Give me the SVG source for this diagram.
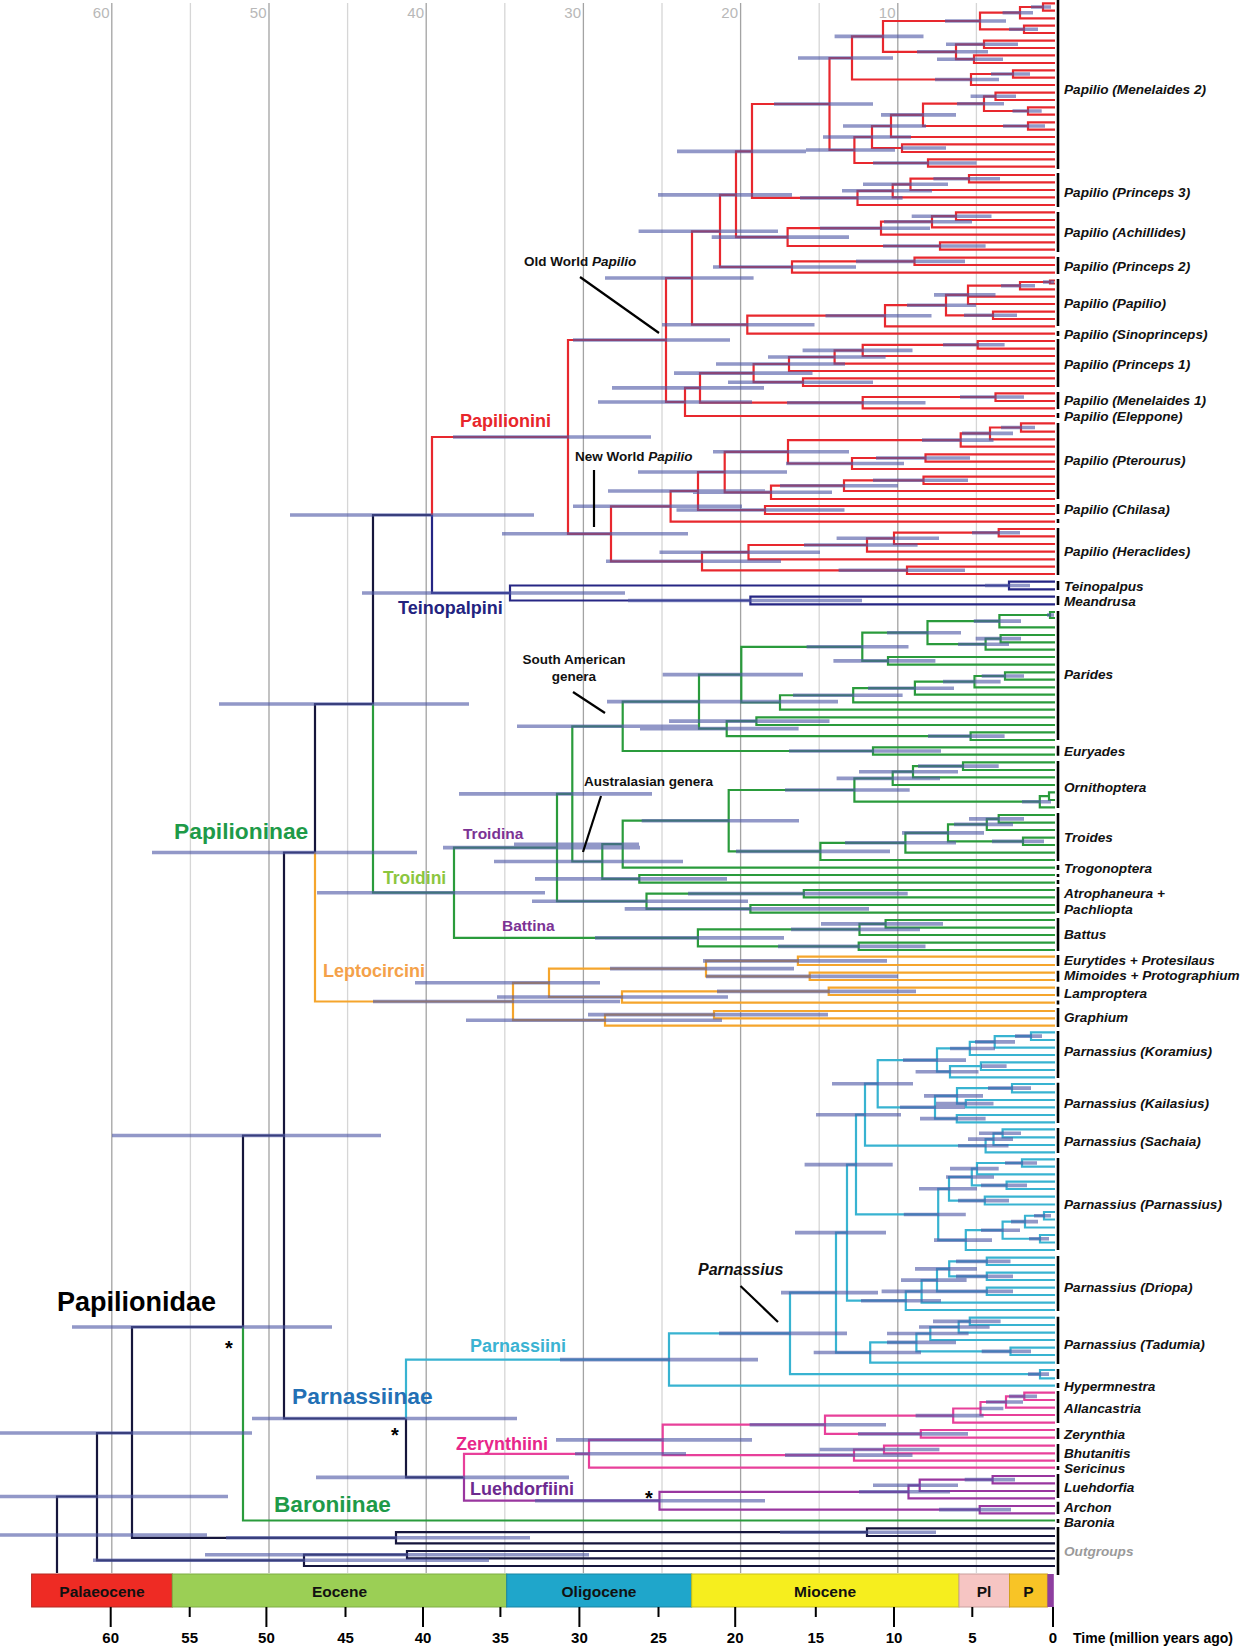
<svg xmlns="http://www.w3.org/2000/svg" width="1240" height="1647" viewBox="0 0 1240 1647">
<style>
text{font-family:'Liberation Sans',Arial,Helvetica,sans-serif;font-weight:bold}
.br{fill:none;stroke-width:2.2}
.k{stroke:#16163c}
.r{stroke:#e8282e}
.nv{stroke:#262684}
.g{stroke:#2a9b3c}
.o{stroke:#f5a52c}
.c{stroke:#38b3d1}
.m{stroke:#e8409a}
.p{stroke:#99369f}
.bar{fill:none;stroke:#4f58a6;stroke-opacity:0.62;stroke-width:3.6}
.g10{stroke:#a3a3a3;stroke-width:1.3}
.g5{stroke:#d6d6d6;stroke-width:1.3}
.gl{font-size:15px;font-weight:normal;fill:#b8b8b8;text-anchor:end}
.tl{font-size:13.6px;font-style:italic;fill:#111}
.bk{fill:none;stroke:#000;stroke-width:2.6}
.ann{font-size:13.5px;fill:#111}
.tick{stroke:#000;stroke-width:2}
.ax{font-size:15px;fill:#000;text-anchor:middle}
.ep{font-size:15.5px;text-anchor:middle;fill:#111}
.lead{stroke:#000;stroke-width:2.2}
.ast{font-size:20px;fill:#000;text-anchor:middle}
</style>
<g id="grid">
<path class="g10" d="M111.8,3V1573M269,3V1573M426.2,3V1573M583.4,3V1573M740.6,3V1573M897.8,3V1573"/>
<path class="g5" d="M190.4,3V1573M347.6,3V1573M504.8,3V1573M662,3V1573M819.2,3V1573M976.4,3V1573"/>
<text class="gl" x="109.5" y="18">60</text><text class="gl" x="266.5" y="18">50</text><text class="gl" x="424" y="18">40</text><text class="gl" x="581" y="18">30</text><text class="gl" x="738" y="18">20</text><text class="gl" x="895.5" y="18">10</text>
</g>
<g id="connectors">
<path class="br k" d="M432,515H373V704M373,704H315V852.5M315,852.5H284V1418.5H406M284,1135.5H243V1327M243,1327H132V1537.8H396M132,1433H97V1560.3H304M97,1496.5H57V1573M406,1418.5V1477.35H464M867,1532.2H396V1543.3H1055M1055,1528.3H867V1536H1055M407,1554.7H304V1566H1055M1055,1551H407V1558.3H1055"/>
<path class="br r" d="M568,437H432V515M666,340H568V533.8H611M692,278H666V402H685M720,231.3H692V324.7H747.3M736,194.9H720V267H792M752,151.4H736V237.1H787.6M829.5,104H752V197.9H857.5M852,58H829.5V150H854.4M883,36.4H852V79.5H971M980,21H883V51.8H956M1020,12.7H980V29.3H1024M1043,7H1020V18.3H1055M1055,3.3H1043V10.7H1055M1055,25.7H1024V33H1055M984,44.3H956V59.2H974M1055,40.7H984V48H1055M1055,55.3H974V63H1055M1013,74H971V85H1055M1055,70.3H1013V77.7H1055M872,137H854.4V163H928M891,126H872V148H902M923,114.9H891V137H1055M984,103.7H923V126H1028M995.5,96.3H984V111H1028M1055,92.7H995.5V100H1055M1055,107.3H1028V114.7H1055M1055,122.3H1028V129.7H1055M1055,144.3H902V152H1055M1055,159.3H928V166.7H1055
M892.7,190.8H857.5V205H1055M910.5,184.3H892.7V197.3H1055M969,178.7H910.5V190H1055M1055,175H969V182.3H1055M881,228.2H787.6V246H940M932,221.7H881V234.7H1055M956,216.2H932V227.3H1055M1055,212.3H956V220H1055M1055,242.3H940V249.7H1055M914.5,261.4H792V272.7H1055M1055,257.7H914.5V265H1055
M885,315.7H747.3V333.7H1055M946,305.2H885V326.3H1055M968,294.9H946V315.3H993M1020,285.7H968V304H1055M968,296.7H1055M1050,282H1020V289.3H1055M1055,280.5H1050V283.5H1055M1055,311.7H993V319H1055
M700,387.9H685V416H1055M753.6,373.1H700V402.7H862.7M789,364H753.6V382.2H803M834.6,357H789V371H1055M862.7,350.4H834.6V363.7H1055M977.7,344.8H862.7V356H1055M1055,341H977.7V348.7H1055M1055,378.3H803V386H1055M995.5,397H862.7V408.3H1055M1055,393.3H995.5V401H1055
M670.6,506.3H611V561.3H702M698,491H670.6V521.7H1055M724.7,472H698V510H765M1055,506H765V514H1055M788,451.8H724.7V492.3H771M960.7,440.1H788V463.5H852M990,433.4H960.7V446.7H1055M1021,427.5H990V439.3H1055M1055,423.3H1021V431.7H1055M925.5,458H852V469H1055M1055,454.3H925.5V461.7H1055M844,485.7H771V499H1055M923.5,480.3H844V491H1055M1055,476.7H923.5V484H1055
M748.5,552.2H702V570.3H907M1055,566.7H907V574H1055M867,545H748.5V559.3H1055M894,538.3H867V551.7H1055M998.7,532.7H894V544H1055M1055,529H998.7V536.3H1055"/>
<path class="br nv" d="M432,515V593H510M1009,585.5H510V600.5H750.4M1055,581.7H1009V589.3H1055M1055,596.7H750.4V604.3H1055"/>
<path class="br g" d="M373,704V892.7H454M243,1327V1520.5H1055M557,847.6H454V937.9H697.9M572.3,793.9H557V901.25H646.5M622.7,726.3H572.3V861.5H602.3M699,701.65H622.7V751H873M741.3,674.65H699V728.65H726.7M862.3,646.8H741.3V702.5H780M927.5,632.7H862.3V660.85H888M999.4,621.15H927.5V644.2H985.6M1050,615H999.4V627.3H1055M1055,612H1050V618H1055M1000.6,638.65H985.6V649.7H1055M1055,635H1000.6V642.3H1055M1055,657H888V664.7H1055M853.2,695.25H780V709.7H1055M914.9,688.2H853.2V702.3H1055M974.5,681.65H914.9V694.7H1055M1005,676H974.5V687.3H1055M1055,672.3H1005V679.7H1055M756.4,721.15H726.7V736.15H970.6M1055,717.3H756.4V725H1055M1055,732.3H970.6V740H1055M1055,747.3H873V754.7H1055
M622.7,844.2H602.3V878.85H639.3M728.7,820.7H622.7V867.7H1055M854.4,790H728.7V851.4H820.4M892.7,778.35H854.4V801.7H1039.8M913,771.7H892.7V785H1055M963,766.15H913V777.3H1055M1055,762.3H963V770H1055M1049,796.15H1039.8V807.3H1055M1055,792.3H1049V800H1055M905.4,842.8H820.4V860H1055M948,832.9H905.4V852.7H1055M986.8,824.4H948V841.35H1023M998.7,818.85H986.8V830H1055M1055,815H998.7V822.7H1055M1055,837.7H1023V845H1055M1055,875H639.3V882.7H1055
M803.8,893.65H646.5V908.85H750.4M1055,890H803.8V897.3H1055M1055,905H750.4V912.7H1055M859.5,929.4H697.9V946.35H858.7M885.6,923.85H859.5V935H1055M1055,920H885.6V927.7H1055M1055,942.7H858.7V950H1055"/>
<path class="br o" d="M315,852.5V1001.5H513M549,982.8H513V1020.2H605M706,968.6H549V997H622M797.9,960.85H706V976.35H809.7M1055,956.7H797.9V965H1055M1055,972.7H809.7V980H1055M828.7,991.35H622V1002.7H1055M1055,987.7H828.7V995H1055M714,1014.65H605V1025.7H1055M1055,1011H714V1018.3H1055"/>
<path class="br c" d="M669,1359.6H406V1418.5M790,1333.4H669V1385.7H1055M836,1292.6H790V1374.15H1040M1055,1370H1040V1378.3H1055M847,1232.65H836V1352.55H870.2M856,1164.6H847V1300.7H905.8M865,1114.7H856V1214.45H938.2M877.7,1083.7H865V1145.7H985.6M937,1060.1H877.7V1107.3H935M969.8,1048.45H937V1071.7H950M994.7,1041.9H969.8V1055H1055M1031,1036.15H994.7V1047.7H1055M1055,1032.3H1031V1040H1055M980.9,1066.15H950V1077.3H1055M1055,1062.3H980.9V1070H1055M957,1095.9H935V1118.65H956.8M1012,1088.15H957V1103.65H965.8M1055,1084H1012V1092.3H1055M1055,1100H965.8V1107.3H1055M1055,1115H956.8V1122.3H1055M993.5,1139.15H985.6V1152.3H1055M1002.6,1133.3H993.5V1145H1055M1055,1129.3H1002.6V1137.3H1055
M949,1188.8H938.2V1240.1H965.8M971.8,1177H949V1200.6H984.8M977,1168.65H971.8V1185.35H1006.6M1022,1163H977V1174.3H1055M1055,1159.3H1022V1166.7H1055M1055,1181.7H1006.6V1189H1055M1055,1196.7H984.8V1204.5H1055M1002.6,1230.2H965.8V1250H1055M1025,1221.6H1002.6V1238.75H1040M1044,1215.75H1025V1227.5H1055M1055,1212H1044V1219.5H1055M1055,1235H1040V1242.5H1055
M921.6,1291.4H905.8V1310H1055M937,1280.1H921.6V1302.7H1055M949.2,1268.85H937V1291.35H986.8M986.8,1261.35H949.2V1276.35H986.8M1055,1257.7H986.8V1265H1055M1055,1272.7H986.8V1280H1055M1055,1287.7H986.8V1295H1055
M916.4,1342.4H870.2V1362.7H1055M930.3,1333.5H916.4V1351.35H1010.5M958.7,1327H930.3V1340H1055M969.8,1321.35H958.7V1332.7H1055M1055,1317.7H969.8V1325H1055M1055,1347.7H1010.5V1355H1055"/>
<path class="br m" d="M589,1453.8H464V1477.35M662.7,1439.9H589V1467.7H1055M825,1424.7H662.7V1455.1H854M953.2,1415.6H825V1433.85H920.8M980.5,1408.5H953.2V1422.7H1055M1006,1402H980.5V1415H1055M1024.3,1396.35H1006V1407.7H1055M1055,1392.7H1024.3V1400H1055M1055,1430H920.8V1437.7H1055M884,1449.5H854V1460.7H1055M1055,1445.7H884V1453.3H1055"/>
<path class="br p" d="M464,1477.35V1500.7H659.5M908.5,1491.8H659.5V1509.65H979.7M919.7,1485.3H908.5V1498.3H1055M992.6,1479.65H919.7V1491H1055M1055,1476H992.6V1483.3H1055M1055,1506H979.7V1513.3H1055"/>
</g>
<g id="error-bars">
<path class="bar" d="M0,1535H207M0,1496.5H228M0,1433H252M72,1327H332M112,1135.5H381M152,852.5H417M219,704H469M290,515H534M362,593H625M453,437H651M502,533.8H688M573,340H730M252,1418.5H517M316,1477.4H569M226,1537.8H530M93,1560.3H489M205,1554.7H589M780,1532.2H936M560,1359.6H758M317,892.7H545M373,1001.5H620
M605,278H753.6M638.6,231.3H778M658,194.9H792M677,151.4H806M774,104H873M798,58H893M834.6,36.4H923.5M917,51.8H988M946,44.3H1018M937,59.2H1003M945,21H1006M1002.6,12.7H1033M1009,29.3H1038M1031,7H1051M935,79.5H999M991,74H1030M957,103.7H1004M881,114.9H956M843,126H926M823,137H911M970.6,96.3H1016M1012.5,111H1041.7M1003,126H1045M901,148H946M873,163H976.5M806,150H895M800,197.9H902.6M842,190.8H932M863,184.3H948M933.4,178.7H1000M711.7,237.1H849M820,228.2H930M884,221.7H972M911.7,216.2H991.5M883,246H985.6M713,267H856M856,261.4H965M662,324.7H814.5M825.5,315.7H931.5M907,305.2H976M934,294.9H995.5M1001,285.7H1035M1043,282H1054M964,315.3H1017M598,402H752M612,387.9H764M674,373.1H812.5M716,364H845M768,357H885.6M802.6,350.4H912.5M943,344.8H1004.6M728,382.2H873M787,402.7H925.5M960,397H1024
M573,506.3H742M608,491H765M638,472H787M713,451.8H849M922,440.1H993.5M962,433.4H1013M1001,427.5H1035M786,463.5H904M876,458H970M693,492.3H832M780,485.7H898M873,480.3H968M676.5,510H844.5M606,561.3H781M659.5,552.2H820M804,545H917.6M836.6,538.3H939M972,532.7H1020M838.6,570.3H965M985,585.5H1030M628,600.5H862
M443,847.6H640M459,793.9H652M517,726.3H698M607,701.65H838M662.7,674.65H803M806.6,646.8H908.5M887,632.7H961M973.8,621.15H1021M1047,615H1054M975.7,638.65H1021M958,644.2H1009M833.4,660.85H935.4M981.7,676H1024M943,681.65H1000.6M868,688.2H954M793,695.25H902.6M640,728.65H798.6M669,721.15H829.5M928,736.15H1004.6M789,751H941M494,861.5H683M514,844.2H639M641.7,820.7H799M785,790H909.7M836.6,778.35H940M859,771.7H958M918,766.15H998.7M1022,801.7H1051M736,851.4H890M845,842.8H956M902,832.9H984M954,824.4H1013M969,818.85H1024M992,841.35H1044M535,878.85H727M532,901.25H748M688,893.65H907.7M624.7,908.85H869M595,937.9H784M791,929.4H920M821,923.85H943M778,946.35H925.5
M415,982.8H600M610,968.6H794M703,960.85H887M706,976.35H898M497,997H728M717,991.35H916M466,1020.2H722M588,1014.65H828
M719,1333.4H847M781,1292.6H878M795,1232.65H886M804.6,1164.6H892.7M816,1114.7H901M832,1083.7H913M903,1060.1H966M950,1048.45H995M975,1041.9H1015M1015,1036.15H1042M915.6,1071.7H978.5M981,1066.15H1006.6M900,1107.3H965M924,1095.9H983M936,1103.65H993.5M988,1088.15H1031M920,1118.65H985.6M958,1145.7H1008.5M968,1139.15H1013M979,1133.3H1021M903.8,1214.45H965.8M919,1188.8H977M946,1177H994M950,1168.65H998.7M1005,1163H1037M981,1185.35H1027M958,1200.6H1009M934,1240.1H992M981,1230.2H1020M1011,1221.6H1038M1034,1215.75H1051M1029,1238.75H1049M861,1300.7H941M881.6,1291.4H955M901,1280.1H966.6M915,1268.85H977M956,1261.35H1010.5M956,1276.35H1013M955,1291.35H1013M813.7,1352.55H921M887,1342.4H956M887,1333.5H968.6M919,1327H989.6M933,1321.35H1000.6M981.7,1351.35H1031M1028,1374.15H1049
M575,1453.8H686M556,1439.9H752M749.6,1424.7H886M915.6,1415.6H983.6M979.7,1408.5H1003.4M986,1402H1023M1009,1396.35H1037M858,1433.85H968M785,1455.1H912.5M819.6,1449.5H939.4M535,1500.7H765M859,1491.8H950M873,1485.3H958M964.7,1479.65H1015M939,1509.65H1011"/>
</g>
<g id="brackets">
<path class="bk" d="M1058,0V169M1058,173V207M1058,212V252M1058,257V274M1058,279V326M1058,331V336M1058,339V387M1058,392V409M1058,413V418M1058,423V499M1058,504V514M1058,519V523M1058,528V575M1058,581V590M1058,596V605M1058,611V740M1058,745.7V755.7M1058,761V808M1058,813V861M1058,865V870M1058,874V877M1058,880V884M1058,887V913M1058,918V951M1058,955V966M1058,970.7V981.7M1058,986.7V996.5M1058,1000.5V1004.5M1058,1008V1027M1058,1031V1078M1058,1082.7V1123M1058,1128V1153M1058,1158V1250M1058,1256V1311M1058,1316.7V1364M1058,1369V1379M1058,1383V1388M1058,1391V1423M1058,1428V1439M1058,1444V1462M1058,1466V1470M1058,1474V1498M1058,1501.7V1514M1058,1519V1523M1058,1527V1575"/>
</g>
<g id="tip-labels">
<g id="n-menelaides2"><text class="tl" x="1064" y="94">Papilio (Menelaides 2)</text></g>
<g id="n-princeps3"><text class="tl" x="1064" y="196.5">Papilio (Princeps 3)</text></g>
<g id="n-achillides"><text class="tl" x="1064" y="236.5">Papilio (Achillides)</text></g>
<g id="n-princeps2"><text class="tl" x="1064" y="270.5">Papilio (Princeps 2)</text></g>
<g id="n-papilio"><text class="tl" x="1064" y="308">Papilio (Papilio)</text></g>
<g id="n-sinoprinceps"><text class="tl" x="1064" y="338.8">Papilio (Sinoprinceps)</text></g>
<g id="n-princeps1"><text class="tl" x="1064" y="369">Papilio (Princeps 1)</text></g>
<g id="n-menelaides1"><text class="tl" x="1064" y="404.8">Papilio (Menelaides 1)</text></g>
<g id="n-eleppone"><text class="tl" x="1064" y="420.8">Papilio (Eleppone)</text></g>
<g id="n-pterourus"><text class="tl" x="1064" y="464.8">Papilio (Pterourus)</text></g>
<g id="n-chilasa"><text class="tl" x="1064" y="513.8">Papilio (Chilasa)</text></g>
<g id="n-heraclides"><text class="tl" x="1064" y="555.5">Papilio (Heraclides)</text></g>
<g id="n-teinopalpus"><text class="tl" x="1064" y="590.8">Teinopalpus</text></g>
<g id="n-meandrusa"><text class="tl" x="1064" y="605.8">Meandrusa</text></g>
<g id="n-parides"><text class="tl" x="1064" y="678.8">Parides</text></g>
<g id="n-euryades"><text class="tl" x="1064" y="755.8">Euryades</text></g>
<g id="n-ornithoptera"><text class="tl" x="1064" y="791.5">Ornithoptera</text></g>
<g id="n-troides"><text class="tl" x="1064" y="841.5">Troides</text></g>
<g id="n-trogonoptera"><text class="tl" x="1064" y="872.5">Trogonoptera</text></g>
<g id="n-atrophaneura"><text class="tl" x="1064" y="897.5">Atrophaneura +</text><text class="tl" x="1064" y="914">Pachliopta</text></g>
<g id="n-battus"><text class="tl" x="1064" y="939">Battus</text></g>
<g id="n-eurytides"><text class="tl" x="1064" y="965">Eurytides + Protesilaus</text></g>
<g id="n-mimoides"><text class="tl" x="1064" y="979.8">Mimoides + Protographium</text></g>
<g id="n-lamproptera"><text class="tl" x="1064" y="997.5">Lamproptera</text></g>
<g id="n-graphium"><text class="tl" x="1064" y="1021.5">Graphium</text></g>
<g id="n-koramius"><text class="tl" x="1064" y="1055.8">Parnassius (Koramius)</text></g>
<g id="n-kailasius"><text class="tl" x="1064" y="1107.5">Parnassius (Kailasius)</text></g>
<g id="n-sachaia"><text class="tl" x="1064" y="1145.8">Parnassius (Sachaia)</text></g>
<g id="n-parnassius"><text class="tl" x="1064" y="1209">Parnassius (Parnassius)</text></g>
<g id="n-driopa"><text class="tl" x="1064" y="1292">Parnassius (Driopa)</text></g>
<g id="n-tadumia"><text class="tl" x="1064" y="1348.8">Parnassius (Tadumia)</text></g>
<g id="n-hypermnestra"><text class="tl" x="1064" y="1390.5">Hypermnestra</text></g>
<g id="n-allancastria"><text class="tl" x="1064" y="1413">Allancastria</text></g>
<g id="n-zerynthia"><text class="tl" x="1064" y="1439">Zerynthia</text></g>
<g id="n-bhutanitis"><text class="tl" x="1064" y="1457.5">Bhutanitis</text></g>
<g id="n-sericinus"><text class="tl" x="1064" y="1473">Sericinus</text></g>
<g id="n-luehdorfia"><text class="tl" x="1064" y="1492">Luehdorfia</text></g>
<g id="n-archon"><text class="tl" x="1064" y="1511.5">Archon</text></g>
<g id="n-baronia"><text class="tl" x="1064" y="1526.5">Baronia</text></g>
<g id="n-outgroups"><text class="tl" x="1064" y="1555.8" style="fill:#9a9a9a">Outgroups</text></g>
</g>
<g id="clade-labels">
<g id="l-papilionidae"><text x="57" y="1311" style="font-size:27px;fill:#000">Papilionidae</text></g>
<g id="l-papilioninae"><text x="174" y="839" style="font-size:22.8px;fill:#1e9a48">Papilioninae</text></g>
<g id="l-parnassiinae"><text x="292" y="1403.5" style="font-size:22.8px;fill:#2370b5">Parnassiinae</text></g>
<g id="l-baroniinae"><text x="274" y="1512" style="font-size:22.6px;fill:#1e9a48">Baroniinae</text></g>
<g id="l-papilionini"><text x="460" y="427" style="font-size:18px;fill:#e8262b">Papilionini</text></g>
<g id="l-teinopalpini"><text x="398" y="614" style="font-size:18px;fill:#23237f">Teinopalpini</text></g>
<g id="l-troidini"><text x="383" y="884" style="font-size:17.5px;fill:#8cc63f">Troidini</text></g>
<g id="l-troidina"><text x="463" y="839" style="font-size:15.5px;fill:#7b3294">Troidina</text></g>
<g id="l-battina"><text x="502" y="931" style="font-size:15.5px;fill:#7b3294">Battina</text></g>
<g id="l-leptocircini"><text x="323" y="977" style="font-size:18px;fill:#f4a14a">Leptocircini</text></g>
<g id="l-parnassiini"><text x="470" y="1352" style="font-size:18px;fill:#3bb3d2">Parnassiini</text></g>
<g id="l-zerynthiini"><text x="456" y="1450" style="font-size:18px;fill:#e8268a">Zerynthiini</text></g>
<g id="l-luehdorfiini"><text x="470" y="1495" style="font-size:18px;fill:#6d2a8f">Luehdorfiini</text></g>
<g id="l-asterisks"><text class="ast" x="229" y="1355">*</text><text class="ast" x="395" y="1442">*</text><text class="ast" x="649" y="1505">*</text></g>
<g id="l-oldworld"><text class="ann" x="524" y="266">Old World <tspan style="font-style:italic">Papilio</tspan></text><path class="lead" d="M580,277L659,333"/></g>
<g id="l-newworld"><text class="ann" x="575" y="461">New World <tspan style="font-style:italic">Papilio</tspan></text><path class="lead" d="M594,470V527"/></g>
<g id="l-southamerican"><text class="ann" x="574" y="664" text-anchor="middle">South American</text><text class="ann" x="574" y="681" text-anchor="middle">genera</text><path class="lead" d="M573,692L605,713"/></g>
<g id="l-australasian"><text class="ann" x="584" y="786">Australasian genera</text><path class="lead" d="M601,796L583,852"/></g>
<g id="l-parnassius"><text x="698" y="1275" style="font-size:16px;font-style:italic;fill:#111">Parnassius</text><path class="lead" d="M740.5,1286L778,1322"/></g>
</g>
<g id="timescale">
<rect x="31.6" y="1574" width="140.7" height="33" fill="#ee2b24" stroke="#b52a22" stroke-width="1"/>
<rect x="172.3" y="1574" width="334.4" height="33" fill="#9bcf55" stroke="#7fae44" stroke-width="1"/>
<rect x="506.7" y="1574" width="185" height="33" fill="#1fa6cb" stroke="#1885a3" stroke-width="1"/>
<rect x="691.7" y="1574" width="267.3" height="33" fill="#f6ee1e" stroke="#c8c018" stroke-width="1"/>
<rect x="959" y="1574" width="50.5" height="33" fill="#f6c5c3" stroke="#c9a09e" stroke-width="1"/>
<rect x="1009.5" y="1574" width="37.9" height="33" fill="#f8c426" stroke="#d0a21c" stroke-width="1"/>
<rect x="1047.4" y="1574" width="6.4" height="33" fill="#8e3fa0"/>
<text class="ep" x="102" y="1597">Palaeocene</text>
<text class="ep" x="339.5" y="1597">Eocene</text>
<text class="ep" x="599" y="1597">Oligocene</text>
<text class="ep" x="825" y="1597">Miocene</text>
<text class="ep" x="984" y="1597">Pl</text>
<text class="ep" x="1028.5" y="1597">P</text>
<path class="tick" d="M110.7,1607V1627M266.4,1607V1627M423,1607V1627M579.4,1607V1627M735.2,1607V1627M894,1607V1627M1053,1607V1627M189.7,1607V1617M345.5,1607V1617M500.4,1607V1617M658.5,1607V1617M815.8,1607V1617M972.3,1607V1617"/>
<text class="ax" x="110.7" y="1643">60</text><text class="ax" x="189.7" y="1643">55</text><text class="ax" x="266.4" y="1643">50</text><text class="ax" x="345.5" y="1643">45</text><text class="ax" x="423" y="1643">40</text><text class="ax" x="500.4" y="1643">35</text><text class="ax" x="579.4" y="1643">30</text><text class="ax" x="658.5" y="1643">25</text><text class="ax" x="735.2" y="1643">20</text><text class="ax" x="815.8" y="1643">15</text><text class="ax" x="894" y="1643">10</text><text class="ax" x="972.3" y="1643">5</text><text class="ax" x="1053" y="1643">0</text>
<text x="1073" y="1643" style="font-size:14px;fill:#000">Time (million years ago)</text>
</g>
</svg>
